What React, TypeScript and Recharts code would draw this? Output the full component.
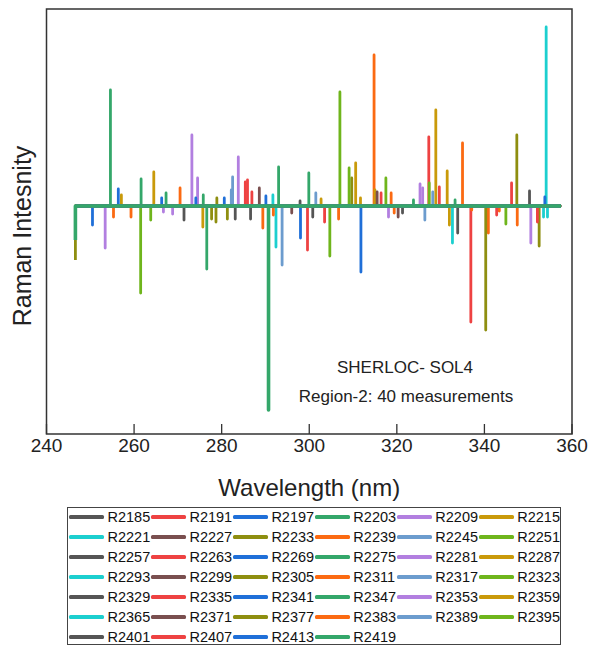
import React from 'react';
import { LineChart, Line, XAxis, YAxis, ReferenceArea } from 'recharts';

type Peak = [number, number];

const FONT = '"Liberation Sans", Arial, Helvetica, sans-serif';

const SERIES_NAMES = [
  'R2185', 'R2191', 'R2197', 'R2203', 'R2209', 'R2215',
  'R2221', 'R2227', 'R2233', 'R2239', 'R2245', 'R2251',
  'R2257', 'R2263', 'R2269', 'R2275', 'R2281', 'R2287',
  'R2293', 'R2299', 'R2305', 'R2311', 'R2317', 'R2323',
  'R2329', 'R2335', 'R2341', 'R2347', 'R2353', 'R2359',
  'R2365', 'R2371', 'R2377', 'R2383', 'R2389', 'R2395',
  'R2401', 'R2407', 'R2413', 'R2419',
];

const PALETTE = [
  '#555555', '#ee4242', '#1f6fd8', '#34a76a', '#b27fe0', '#c99a0a',
  '#1ccfcf', '#7a4f4f', '#8e8e10', '#fb6a12', '#6c9cce', '#6fb51c',
];

const X_TICKS = [240, 260, 280, 300, 320, 340, 360];
const X_DOMAIN: [number, number] = [240, 360];
const Y_DOMAIN: [number, number] = [-228, 197];

const X_TITLE = 'Wavelength (nm)';
const Y_TITLE = 'Raman Intesnity';
const NOTE_1 = 'SHERLOC- SOL4';
const NOTE_2 = 'Region-2: 40 measurements';

const START_NM = 246.6;
const END_NM = 357.5;
const START_VALUES: Record<string, number> = { R2377: -54, R2419: -34 };

// Peaks per measurement: [wavelength nm, intensity (a.u.)]
const R2185: Peak[] = [[271.4, -14], [333.9, -27]];
const R2191: Peak[] = [[285.9, 26], [327.3, 69]];
const R2197: Peak[] = [[250.5, -19], [298.0, -32]];
const R2203: Peak[] = [[254.6, 116], [276.6, -63]];
const R2209: Peak[] = [[253.4, -42], [273.2, 71], [325.3, 22]];
const R2215: Peak[] = [[257.1, 11], [275.7, -21], [328.9, 96]];
const R2221: Peak[] = [[291.7, 11], [354.1, 179]];
const R2227: Peak[] = [[288.6, 18]];
const R2233: Peak[] = [[277.7, -13], [309.7, 28], [347.4, 71]];
const R2239: Peak[] = [[255.3, -11], [289.4, -22], [314.8, 151], [340.9, -27]];
const R2245: Peak[] = [[282.2, 16], [326.4, -14]];
const R2251: Peak[] = [[261.5, -87], [307.0, 114]];
const R2257: Peak[] = [[283.1, -13], [350.3, 15]];
const R2263: Peak[] = [[285.4, 24], [336.9, -116]];
const R2269: Peak[] = [[256.4, 17], [311.8, -66]];
const R2275: Peak[] = [[261.6, 27], [293.0, 39], [323.8, 6]];
const R2281: Peak[] = [[266.7, -6], [283.8, 49], [350.6, -37]];
const R2287: Peak[] = [[264.5, 34], [310.6, 43], [332.0, -19]];
const R2293: Peak[] = [[292.4, -41], [354.4, -11]];
const R2299: Peak[] = [[296.0, -7], [320.3, -11]];
const R2305: Peak[] = [[278.7, -16], [340.3, -124]];
const R2311: Peak[] = [[259.3, -11], [291.8, -9], [318.7, 13], [335.0, 63], [343.4, -5]];
const R2317: Peak[] = [[293.8, -59], [328.2, 14]];
const R2323: Peak[] = [[263.8, -14], [304.7, -50], [317.5, 28]];
const R2329: Peak[] = [[286.6, -13], [297.9, 5]];
const R2335: Peak[] = [[286.9, 14], [299.6, -44], [346.2, 23]];
const R2341: Peak[] = [[266.3, 8], [280.6, 8], [353.8, 9]];
const R2347: Peak[] = [[267.3, 13], [275.8, 11], [299.9, 33], [333.3, 6]];
const R2353: Peak[] = [[268.8, -8], [274.5, 28], [318.1, -11], [325.9, 18]];
const R2359: Peak[] = [[302.7, 7], [311.7, 8], [315.0, 16], [331.5, 35]];
const R2365: Peak[] = [[332.7, -37], [353.5, -11]];
const R2371: Peak[] = [[315.5, 14]];
const R2377: Peak[] = [[278.9, 8], [281.3, -13], [352.5, -40]];
const R2383: Peak[] = [[270.5, 18], [306.7, -13], [319.4, -7], [337.1, -4], [347.5, -19]];
const R2389: Peak[] = [[282.5, 29], [301.5, 13]];
const R2395: Peak[] = [[309.1, 38], [327.4, 23], [344.9, -18]];
const R2401: Peak[] = [[300.8, -11], [321.3, -7]];
const R2407: Peak[] = [[303.5, -16], [316.4, 13], [329.7, 19], [342.8, -9], [352.1, -16]];
const R2413: Peak[] = [[274.1, 8], [290.1, 10]];
const R2419: Peak[] = [[290.7, -204]];

const PEAKS: Record<string, Peak[]> = {
  R2185, R2191, R2197, R2203, R2209, R2215, R2221, R2227, R2233, R2239,
  R2245, R2251, R2257, R2263, R2269, R2275, R2281, R2287, R2293, R2299,
  R2305, R2311, R2317, R2323, R2329, R2335, R2341, R2347, R2353, R2359,
  R2365, R2371, R2377, R2383, R2389, R2395, R2401, R2407, R2413, R2419,
};

function buildSeries(name: string) {
  const pts: { x: number; y: number }[] = [
    { x: START_NM, y: START_VALUES[name] ?? 0 },
    { x: START_NM, y: 0 },
  ];
  const sorted = [...PEAKS[name]].sort((a, b) => a[0] - b[0]);
  for (const [nm, v] of sorted) {
    pts.push({ x: nm, y: 0 }, { x: nm, y: v }, { x: nm, y: 0 });
  }
  pts.push({ x: END_NM, y: 0 });
  return pts;
}

const SERIES = SERIES_NAMES.map((name, i) => ({
  name,
  color: PALETTE[i % PALETTE.length],
  data: buildSeries(name),
}));

const BottomTick = (props: any) => {
  const { x, y, payload } = props;
  return (
    <g>
      <line x1={x} y1={y} x2={x} y2={y - 10} stroke="#333" strokeWidth={1.3} />
      <text x={x} y={y + 18} textAnchor="middle" fontSize={19} fill="#222" fontFamily={FONT}>
        {payload.value}
      </text>
    </g>
  );
};

const CHART_W = 590;
const CHART_H = 510;
const PLOT_LEFT = 46.5;
const PLOT_TOP = 9;
const PLOT_RIGHT = 572;
const PLOT_BOTTOM = 434;
const X_AXIS_H = 40;
const Y_AXIS_W = 30;

export default function App() {
  return (
    <div
      style={{
        position: 'absolute',
        left: 0,
        top: 0,
        width: 590,
        height: 647,
        background: '#fff',
        fontFamily: FONT,
        overflow: 'hidden',
      }}
    >
      <LineChart
        width={CHART_W}
        height={CHART_H}
        margin={{
          top: PLOT_TOP,
          left: PLOT_LEFT - Y_AXIS_W,
          right: CHART_W - PLOT_RIGHT,
          bottom: CHART_H - PLOT_BOTTOM - X_AXIS_H,
        }}
      >
        <XAxis
          type="number"
          dataKey="x"
          domain={X_DOMAIN}
          ticks={X_TICKS}
          allowDataOverflow
          height={X_AXIS_H}
          tickSize={0}
          tickMargin={0}
          tickLine={false}
          axisLine={false}
          tick={BottomTick}
          interval={0}
        />
        <YAxis
          type="number"
          domain={Y_DOMAIN}
          allowDataOverflow
          width={Y_AXIS_W}
          tick={false}
          tickLine={false}
          axisLine={false}
        />
        {SERIES.map((s) => (
          <Line
            key={s.name}
            name={s.name}
            data={s.data}
            dataKey="y"
            type="linear"
            stroke={s.color}
            strokeWidth={s.name === 'R2419' ? 3.6 : 2.8}
            strokeLinejoin="round"
            dot={false}
            activeDot={false}
            isAnimationActive={false}
          />
        ))}
        <ReferenceArea
          x1={X_DOMAIN[0]}
          x2={X_DOMAIN[1]}
          y1={Y_DOMAIN[0]}
          y2={Y_DOMAIN[1]}
          fill="none"
          fillOpacity={0}
          stroke="#333"
          strokeWidth={1.5}
          ifOverflow="visible"
        />
      </LineChart>

      <svg
        width={590}
        height={647}
        style={{ position: 'absolute', left: 0, top: 0, pointerEvents: 'none' }}
      >
        <text
          x={(PLOT_LEFT + PLOT_RIGHT) / 2}
          y={496}
          textAnchor="middle"
          fontSize={24}
          fill="#222"
          fontFamily={FONT}
        >
          {X_TITLE}
        </text>
        <text
          x={30.5}
          y={236}
          transform="rotate(-90, 30.5, 236)"
          textAnchor="middle"
          fontSize={25}
          fill="#222"
          fontFamily={FONT}
        >
          {Y_TITLE}
        </text>
        <text x={405} y={372.5} textAnchor="middle" fontSize={17} fill="#222" fontFamily={FONT}>
          {NOTE_1}
        </text>
        <text x={406} y={401.5} textAnchor="middle" fontSize={17} fill="#222" fontFamily={FONT}>
          {NOTE_2}
        </text>
      </svg>

      <div
        style={{
          position: 'absolute',
          left: 67,
          top: 507,
          width: 494,
          height: 138,
          border: '1px solid #444',
          boxSizing: 'border-box',
        }}
      >
        {SERIES.map((s, i) => {
          const col = i % 6;
          const row = Math.floor(i / 6);
          return (
            <div
              key={s.name}
              style={{
                position: 'absolute',
                left: 1 + col * 81.95,
                top: row * 20 - 1,
                height: 20,
                display: 'flex',
                alignItems: 'center',
                whiteSpace: 'nowrap',
              }}
            >
              <span
                style={{
                  display: 'inline-block',
                  width: 35,
                  height: 3.5,
                  background: s.color,
                  borderRadius: 1.5,
                  marginRight: 3.5,
                }}
              />
              <span style={{ fontSize: 14.5, lineHeight: '20px', color: '#111' }}>{s.name}</span>
            </div>
          );
        })}
      </div>
    </div>
  );
}
